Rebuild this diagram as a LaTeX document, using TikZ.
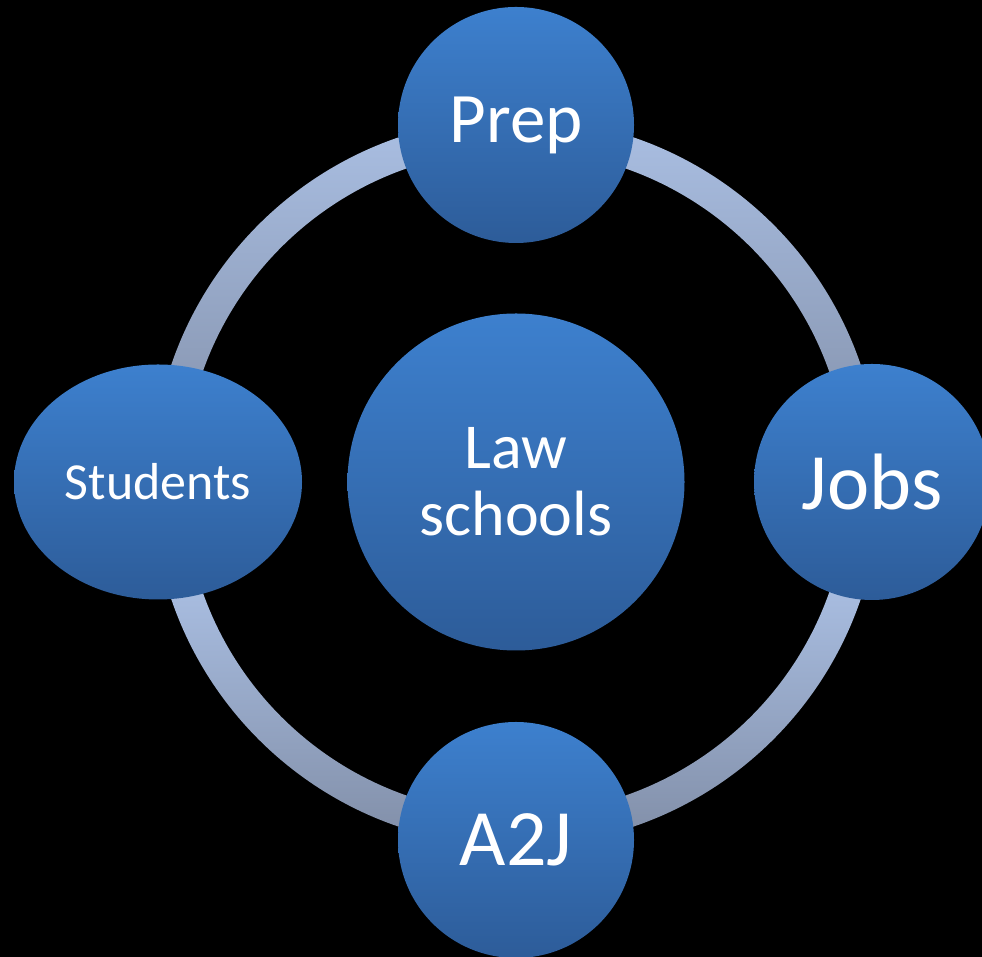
\documentclass[tikz,border=0pt]{standalone}
\usepackage{fontspec}
\setmainfont{Carlito}
\usetikzlibrary{shapes.geometric}
\definecolor{ringlight}{HTML}{AABFE3}
\definecolor{ringdark}{HTML}{808DA6}
\definecolor{nodetop}{HTML}{3D80CE}
\definecolor{nodebot}{HTML}{2D5C99}
\tikzset{
  bubble/.style={circle, inner sep=0pt, top color=nodetop, bottom color=nodebot,
    draw=none, text=white, align=center},
  ringpart/.style={top color=ringlight, bottom color=ringdark, draw=none}
}
\begin{document}
\begin{tikzpicture}[x=1pt,y=1pt]
\fill[black] (0,0) rectangle (982,957);
\useasboundingbox (0,0) rectangle (982,957);
% ring (centre 516,475; radius 348, width 32)
\coordinate (c) at (516,475);
\shade[ringpart] (152,475) arc[start angle=180, end angle=0, radius=364pt]
  -- (848,475) arc[start angle=0, end angle=180, radius=332pt] -- cycle;
\begin{scope}
  \clip (152,475) arc[start angle=180, end angle=360, radius=364pt]
    -- (848,475) arc[start angle=360, end angle=180, radius=332pt] -- cycle;
  \fill[ringlight] (140,367) rectangle (880,480);
  \shade[top color=ringlight!95!ringdark, bottom color=ringdark] (140,108) rectangle (880,367);
\end{scope}
% nodes
\node[bubble, minimum size=337pt, font=\fontsize{64}{67}\selectfont] (law) at (516,475) {Law\\schools};
\node[bubble, minimum size=236pt, font=\fontsize{71}{80}\selectfont] (prep) at (516,832) {Prep};
\node[bubble, minimum size=236pt, font=\fontsize{80}{88}\selectfont] (jobs) at (872,475) {Jobs};
\node[bubble, minimum size=236pt, font=\fontsize{80}{88}\selectfont] (a2j) at (516,117) {A2J};
\node[bubble, ellipse, minimum width=288pt, minimum height=235pt, font=\fontsize{52}{58}\selectfont] (students) at (158,475) {Students};
\end{tikzpicture}
\end{document}
